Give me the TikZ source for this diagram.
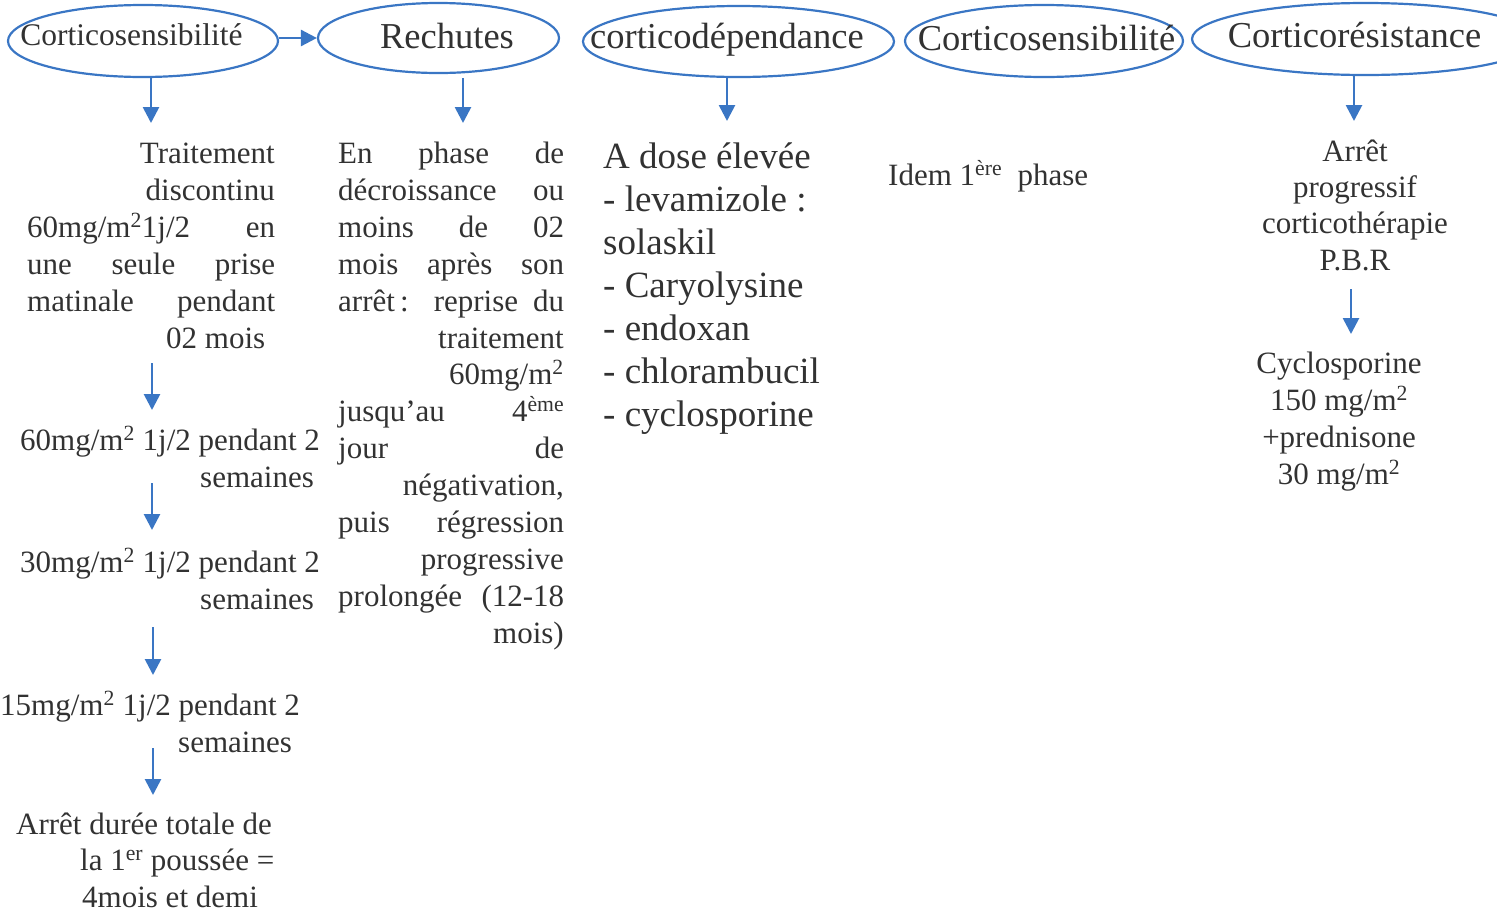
\documentclass[tikz,border=0pt]{standalone}
\usepackage{fontspec}
\setmainfont{Liberation Serif}
\usetikzlibrary{arrows.meta,shapes.geometric}
\definecolor{ablue}{RGB}{58,118,196}
\definecolor{tgray}{RGB}{50,50,50}
\newcommand{\J}[2]{\makebox[#1][s]{#2}}
\begin{document}
\begin{tikzpicture}[x=1pt,y=-1pt,
  ell/.style={draw=ablue, line width=2.2pt, ellipse, inner sep=0pt},
  ttl/.style={font=\fontsize{36.5}{43}\selectfont, text=tgray, inner sep=0pt, anchor=base},
  ttls/.style={font=\fontsize{31.5}{37}\selectfont, text=tgray, inner sep=0pt, anchor=base},
  tx/.style={font=\fontsize{31}{37}\selectfont, text=tgray, inner sep=0pt, anchor=base west},
  txr/.style={tx, anchor=base east},
  txc/.style={tx, anchor=base},
  tb/.style={font=\fontsize{37}{43}\selectfont, text=tgray, inner sep=0pt, anchor=base west},
  arr/.style={draw=ablue, line width=2.7pt, -{Triangle[width=16pt,length=16pt]}}
]
\useasboundingbox (0,0) rectangle (1497,911);

% ellipses
\node[ell, minimum width=270pt, minimum height=72pt] (e1) at (143,41) {};
\node[ell, minimum width=241pt, minimum height=70pt] (e2) at (438.5,38) {};
\node[ell, minimum width=311pt, minimum height=71pt] (e3) at (738.5,41.5) {};
\node[ell, minimum width=278pt, minimum height=72pt] (e4) at (1044,41) {};
\node[ell, minimum width=347pt, minimum height=72pt] (e5) at (1365.5,39) {};

\node[ttls] (t1) at (131.5,45) {Corticosensibilité};
\node[ttl] (t2) at (447,48) {Rechutes};
\node[ttl] (t3) at (727,48) {corticodépendance};
\node[ttl] (t4) at (1046.5,50) {Corticosensibilité};
\node[ttl] (t5) at (1354.5,47) {Corticorésistance};

% column 1
\node[txr] (c1a) at (275,163) {Traitement};
\node[txr] (c1b) at (275,200) {discontinu};
\node[tx] (c1c) at (27,237) {\J{248pt}{60mg/m\textsuperscript{2}1j/2 en}};
\node[tx] (c1d) at (27,274) {\J{248pt}{une seule prise}};
\node[tx] (c1e) at (27,311) {\J{248pt}{matinale pendant}};
\node[tx] (c1f) at (166,348) {02 mois};

\node[tx] (d1a) at (20,450) {60mg/m\textsuperscript{2} 1j/2 pendant 2};
\node[tx] (d1b) at (200,487) {semaines};
\node[tx] (d2a) at (20,572) {30mg/m\textsuperscript{2} 1j/2 pendant 2};
\node[tx] (d2b) at (200,609) {semaines};
\node[tx] (d3a) at (0,715) {15mg/m\textsuperscript{2} 1j/2 pendant 2};
\node[tx] (d3b) at (178,752) {semaines};
\node[tx] (d4a) at (16,834) {Arrêt durée totale de};
\node[tx] (d4b) at (80,870) {la 1\textsuperscript{er} poussée =};
\node[tx] (d4c) at (82,907) {4mois et demi};

% column 2
\node[tx] (c2a) at (338,163) {\J{226pt}{En phase de}};
\node[tx] (c2b) at (338,200) {\J{226pt}{décroissance ou}};
\node[tx] (c2c) at (338,237) {\J{226pt}{moins de 02}};
\node[tx] (c2d) at (338,274) {\J{226pt}{mois après son}};
\node[tx] (c2e) at (338,311) {\J{226pt}{arrêt\,: reprise du}};
\node[txr] (c2f) at (564,348) {traitement};
\node[txr] (c2g) at (564,384) {60mg/m\textsuperscript{2}};
\node[tx] (c2h) at (338,421) {\J{226pt}{jusqu’au 4\textsuperscript{ème}}};
\node[tx] (c2i) at (338,458) {\J{226pt}{jour de}};
\node[txr] (c2j) at (564,495) {négativation,};
\node[tx] (c2k) at (338,532) {\J{226pt}{puis régression}};
\node[txr] (c2l) at (564,569) {progressive};
\node[tx] (c2m) at (338,606) {\J{226pt}{prolongée (12-18}};
\node[txr] (c2n) at (564,643) {mois)};

% column 3
\node[tb] (c3a) at (603,168) {A dose élevée};
\node[tb] (c3b) at (603,211) {- levamizole :};
\node[tb] (c3c) at (603,254) {solaskil};
\node[tb] (c3d) at (603,297) {- Caryolysine};
\node[tb] (c3e) at (603,340) {- endoxan};
\node[tb] (c3f) at (603,383) {- chlorambucil};
\node[tb] (c3g) at (603,426) {- cyclosporine};

% column 4
\node[tx] (c4a) at (888,185) {Idem 1\textsuperscript{ère}\ \ phase};

% column 5
\node[txc] (c5a) at (1355,161) {Arrêt};
\node[txc] (c5b) at (1355,197) {progressif};
\node[txc] (c5c) at (1355,233) {corticothérapie};
\node[txc] (c5d) at (1355,270) {P.B.R};
\node[txc] (c5e) at (1339,373) {Cyclosporine};
\node[txc] (c5f) at (1339,410) {150 mg/m\textsuperscript{2}};
\node[txc] (c5g) at (1339,447) {+prednisone};
\node[txc] (c5h) at (1339,484) {30 mg/m\textsuperscript{2}};

% arrows
\draw[arr] (e1.east |- e2.west) -- (e2.west);
\coordinate (a1) at (151,123);
\coordinate (a2) at (463,123);
\coordinate (a3) at (727,121);
\coordinate (a5) at (1354,121);
\draw[arr] (e1.south -| a1) -- (a1);
\draw[arr, shorten <=4pt] (e2.south -| a2) -- (a2);
\draw[arr] (e3.south -| a3) -- (a3);
\draw[arr] (e5.south -| a5) -- (a5);

\coordinate (b1s) at (152,363); \coordinate (b1e) at (152,410);
\coordinate (b2s) at (152,483); \coordinate (b2e) at (152,530);
\coordinate (b3s) at (153,627); \coordinate (b3e) at (153,675);
\coordinate (b4s) at (153,748); \coordinate (b4e) at (153,795);
\coordinate (b5s) at (1351,289); \coordinate (b5e) at (1351,334);
\draw[arr] (b1s) -- (b1e);
\draw[arr] (b2s) -- (b2e);
\draw[arr] (b3s) -- (b3e);
\draw[arr] (b4s) -- (b4e);
\draw[arr] (b5s) -- (b5e);
\end{tikzpicture}
\end{document}
